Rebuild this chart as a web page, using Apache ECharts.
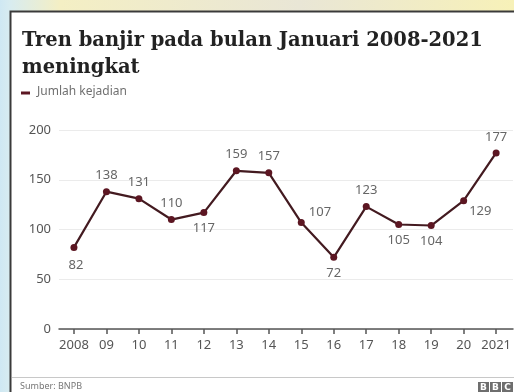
<!DOCTYPE html>
<html>
<head>
<meta charset="utf-8">
<script src="https://cdn.jsdelivr.net/npm/echarts@6/dist/echarts.min.js"></script>
<style>
  html, body { margin: 0; padding: 0; }
  body {
    width: 514px; height: 392px; overflow: hidden;
    background: linear-gradient(90deg, #cfe8f3 0px, #d8ecf0 10px, #f4efc4 60px, #e9e6d6 300px, #f7f1b8 514px);
  }
  #chart { width: 514px; height: 392px; }
</style>
</head>
<body>
<div id="chart"></div>
<script>
// Tren banjir pada bulan Januari 2008-2021
var years = ['2008', '09', '10', '11', '12', '13', '14', '15', '16', '17', '18', '19', '20', '2021'];
var kejadian = [82, 138, 131, 110, 117, 159, 157, 107, 72, 123, 105, 104, 129, 177];
var yTicks = [0, 50, 100, 150, 200];

// letak label angka tiap titik
var labelPos = ['bottom', 'top', 'top', 'top', 'bottom', 'top', 'top', 'right', 'bottom', 'top', 'bottom', 'bottom', 'right', 'top'];

var myChart = echarts.init(document.getElementById('chart'));

var idx = years.map(function (y, i) { return i; });

var points = kejadian.map(function (v, i) {
    var lbl = { position: labelPos[i] };
    if (i === 7) { lbl.offset = [-2, -10]; }
    if (i === 12) { lbl.offset = [-4, 11]; }
    if (i === 0) { lbl.offset = [2, 2]; }
    return { value: [i, v], label: lbl };
});

option = {
    backgroundColor: 'rgba(0,0,0,0)',
    animation: false,
    graphic: [
        {
            type: 'rect',
            shape: { x: 10.5, y: 11.5, width: 520, height: 400 },
            style: { fill: '#ffffff', stroke: '#3a3a3a', lineWidth: 2 },
            z: -10
        },
        {
            type: 'text', left: 22, top: 27,
            style: {
                text: 'Tren banjir pada bulan Januari 2008-2021\nmeningkat',
                font: 'bold 19.5px "DejaVu Serif"', fill: '#222', lineHeight: 27
            }
        },
        {
            type: 'rect',
            shape: { x: 21, y: 91.5, width: 9, height: 3 },
            style: { fill: '#5c1622' }
        },
        {
            type: 'text', left: 37, top: 86,
            style: { text: 'Jumlah kejadian', font: '12px "Noto Sans"', fill: '#707070' }
        },
        {
            type: 'line',
            shape: { x1: 12, y1: 377.5, x2: 514, y2: 377.5 },
            style: { stroke: '#c8c8c8', lineWidth: 1 }
        },
        {
            type: 'text', left: 20, top: 382,
            style: { text: 'Sumber: BNPB', font: '9px "Noto Sans"', fill: '#777' }
        },
        {
            type: 'group', left: 478, top: 382,
            children: ['B', 'B', 'C'].map(function (ch, k) {
                return {
                    type: 'rect', shape: { x: k * 12, y: 0, width: 11, height: 11 },
                    style: { fill: '#6e6e6e' },
                    textContent: { style: { text: ch, font: 'bold 9px "DejaVu Sans"', fill: '#fff' } },
                    textConfig: { position: 'inside' }
                };
            })
        }
    ],
    grid: {
        left: 59, right: 0, top: 130, bottom: 63,
        containLabel: false
    },
    xAxis: {
        type: 'value',
        min: -0.46,
        max: 13.52,
        splitLine: { show: false },
        axisLine: { show: true, lineStyle: { color: '#555', width: 1.5 } },
        axisTick: {
            show: true, length: 5, inside: false,
            customValues: idx,
            lineStyle: { color: '#555', width: 1.5 }
        },
        axisLabel: {
            customValues: idx,
            margin: 10,
            color: '#555',
            fontSize: 13,
            fontFamily: 'Noto Sans',
            formatter: function (v) { return years[Math.round(v)]; }
        }
    },
    yAxis: {
        type: 'value',
        min: 0,
        max: 200,
        interval: 50,
        axisLine: { show: false },
        axisTick: { show: false },
        axisLabel: {
            margin: 8,
            color: '#555',
            fontSize: 13,
            fontFamily: 'Noto Sans'
        },
        splitLine: { lineStyle: { color: '#ebebeb', width: 1 } }
    },
    series: [
        {
            name: 'Jumlah kejadian',
            type: 'line',
            data: points,
            symbol: 'circle',
            symbolSize: 7,
            lineStyle: { color: '#431a20', width: 2.2 },
            itemStyle: { color: '#5c1622' },
            label: {
                show: true,
                distance: 6,
                color: '#666',
                fontSize: 13,
                fontFamily: 'Noto Sans',
                formatter: function (p) { return p.value[1]; }
            }
        }
    ]
};

myChart.setOption(option);
</script>
</body>
</html>
